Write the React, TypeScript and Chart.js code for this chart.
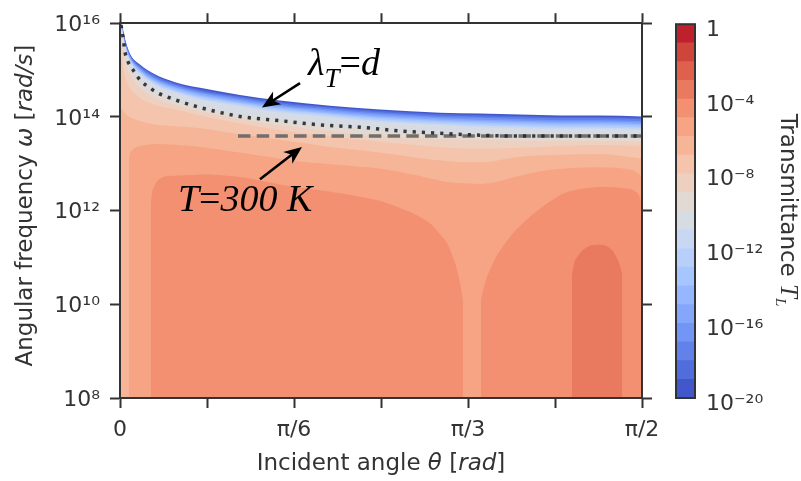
import { useEffect, useRef } from 'react';
import { Chart, registerables } from 'chart.js';

Chart.register(...registerables);
Chart.defaults.font.family = 'DejaVu Sans';

// ---- data -------------------------------------------------------------

// incident angle samples (rad) for the upper contour lines
const thetaGrid = [0, 0.006, 0.015, 0.03, 0.06, 0.105, 0.166, 0.241, 0.361, 0.481, 0.632, 0.782, 0.963, 1.083, 1.204, 1.324, 1.444, 1.5708];

// log10(omega) of the contour where the transmittance equals 10^-n (n in the name)
const contour20 = [16.0, 15.96, 15.67, 15.35, 15.12, 14.91, 14.74, 14.62, 14.47, 14.35, 14.24, 14.16, 14.09, 14.07, 14.05, 14.03, 14.03, 14.01];
const contour19 = [15.99, 15.94, 15.65, 15.33, 15.1, 14.89, 14.72, 14.59, 14.44, 14.32, 14.21, 14.13, 14.06, 14.04, 14.02, 14.0, 14.0, 13.98];
const contour18 = [15.98, 15.93, 15.63, 15.31, 15.07, 14.86, 14.69, 14.56, 14.42, 14.29, 14.19, 14.1, 14.03, 14.01, 13.99, 13.97, 13.97, 13.95];
const contour17 = [15.97, 15.92, 15.61, 15.3, 15.05, 14.83, 14.67, 14.53, 14.39, 14.26, 14.16, 14.07, 14.0, 13.98, 13.95, 13.93, 13.93, 13.91];
const contour16 = [15.96, 15.9, 15.59, 15.28, 15.03, 14.81, 14.64, 14.51, 14.36, 14.23, 14.13, 14.04, 13.97, 13.94, 13.92, 13.9, 13.9, 13.88];
const contour15 = [15.95, 15.89, 15.57, 15.26, 15.0, 14.78, 14.62, 14.48, 14.33, 14.21, 14.1, 14.01, 13.94, 13.91, 13.89, 13.87, 13.87, 13.85];
const contour14 = [15.94, 15.87, 15.55, 15.24, 14.98, 14.76, 14.59, 14.45, 14.3, 14.18, 14.07, 13.98, 13.91, 13.88, 13.86, 13.84, 13.84, 13.82];
const contour13 = [15.93, 15.86, 15.53, 15.22, 14.96, 14.73, 14.56, 14.42, 14.28, 14.15, 14.05, 13.95, 13.88, 13.85, 13.82, 13.8, 13.8, 13.78];
const contour12 = [15.93, 15.85, 15.52, 15.2, 14.93, 14.71, 14.54, 14.39, 14.25, 14.12, 14.02, 13.92, 13.85, 13.81, 13.79, 13.77, 13.77, 13.75];
const contour11 = [15.92, 15.83, 15.5, 15.18, 14.91, 14.68, 14.51, 14.37, 14.22, 14.09, 13.99, 13.89, 13.82, 13.78, 13.76, 13.74, 13.74, 13.72];
const contour10 = [15.83, 15.71, 15.37, 15.08, 14.76, 14.53, 14.37, 14.2, 14.03, 13.93, 13.8, 13.72, 13.65, 13.63, 13.61, 13.59, 13.59, 13.57];
const contour9 = [15.71, 15.54, 15.18, 14.91, 14.62, 14.41, 14.26, 14.12, 13.95, 13.82, 13.7, 13.59, 13.53, 13.51, 13.49, 13.49, 13.49, 13.47];
const contour8 = [15.39, 15.18, 14.87, 14.62, 14.41, 14.26, 14.16, 14.03, 13.86, 13.72, 13.59, 13.47, 13.36, 13.32, 13.34, 13.38, 13.4, 13.38];
const contour7 = [14.24, 14.16, 14.07, 13.99, 13.91, 13.84, 13.8, 13.76, 13.63, 13.51, 13.36, 13.24, 13.07, 13.03, 13.15, 13.19, 13.21, 13.11];

// closed contours as [theta (rad), log10(omega)] pairs
const contour6: [number, number][] = [
  [0.027, 8], [0.027, 13.09], [0.033, 13.26], [0.045, 13.34], [0.075, 13.4], [0.12, 13.42], [0.241, 13.36],
  [0.391, 13.21], [0.542, 13.05], [0.782, 12.9], [0.882, 12.77], [0.984, 12.61], [1.083, 12.57], [1.134, 12.61],
  [1.183, 12.71], [1.285, 12.86], [1.384, 12.92], [1.484, 12.92], [1.544, 12.86], [1.5708, 12.73],
];
const contour5Left: [number, number][] = [
  [0.093, 8], [0.093, 12.15], [0.099, 12.46], [0.114, 12.65], [0.135, 12.73], [0.181, 12.75], [0.271, 12.77],
  [0.37, 12.71], [0.472, 12.57], [0.572, 12.46], [0.671, 12.36], [0.782, 12.21], [0.882, 11.94], [0.933, 11.73],
  [0.984, 11.31], [1.008, 10.89], [1.023, 10.47], [1.032, 10.05], [1.032, 8],
];
const contour5Right: [number, number][] = [
  [1.086, 8], [1.086, 10.05], [1.095, 10.37], [1.104, 10.58], [1.134, 11.04], [1.183, 11.52], [1.234, 11.87],
  [1.285, 12.15], [1.333, 12.36], [1.384, 12.46], [1.435, 12.5], [1.484, 12.5], [1.535, 12.46], [1.559, 12.36],
  [1.5708, 12.15],
];
const contour4: [number, number][] = [
  [1.36, 8], [1.36, 10.58], [1.369, 10.93], [1.39, 11.14], [1.414, 11.25], [1.438, 11.27], [1.462, 11.25],
  [1.483, 11.14], [1.498, 10.95], [1.511, 10.64], [1.511, 8],
];

// lambda_T = d curve
const lambdaTheta = [0.003, 0.009, 0.015, 0.024, 0.036, 0.06, 0.09, 0.114, 0.141, 0.172, 0.241, 0.361, 0.481, 0.602, 0.722, 0.843, 0.963, 1.083, 1.204, 1.324, 1.444, 1.5708];
const lambdaLogW = [15.96, 15.71, 15.39, 15.18, 15.04, 14.79, 14.62, 14.51, 14.43, 14.35, 14.2, 14.01, 13.92, 13.83, 13.78, 13.7, 13.65, 13.61, 13.59, 13.59, 13.59, 13.59];

// thermal frequency k_B T / hbar at T = 300 K
const thermalTheta = [0.355, 1.5708];
const thermalOmega = 3.93e13;

const xTickLabels = ['0', '', 'π/6', '', 'π/3', '', 'π/2'];
const yTickExps = [8, 10, 12, 14, 16];
const cbarTickExps = [-20, -16, -12, -8, -4, 0];

// ---- style ------------------------------------------------------------

const coolwarm20 = [
  'rgb(66,87,202)', 'rgb(81,109,219)', 'rgb(98,130,234)', 'rgb(115,149,245)', 'rgb(132,167,252)',
  'rgb(150,183,255)', 'rgb(167,197,254)', 'rgb(184,208,249)', 'rgb(200,215,242)', 'rgb(215,219,228)',
  'rgb(227,217,211)', 'rgb(238,208,192)', 'rgb(245,196,172)', 'rgb(247,181,152)', 'rgb(246,164,132)',
  'rgb(242,144,113)', 'rgb(233,121,95)', 'rgb(222,96,77)', 'rgb(207,69,60)', 'rgb(190,33,45)',
];
const AXIS = '#333333';
const TEXT = '#333333';
const tickFont = { family: 'DejaVu Sans', size: 22 };

const SUP: Record<string, string> = {
  '-': '⁻', '0': '⁰', '1': '¹', '2': '²', '3': '³', '4': '⁴', '5': '⁵', '6': '⁶', '7': '⁷', '8': '⁸', '9': '⁹',
};
const pow10Label = (e: number) => (e === 0 ? '1' : '10' + String(e).split('').map((c) => SUP[c]).join(''));

type Run = { text: string; font: string; dy?: number };

function drawRuns(ctx: CanvasRenderingContext2D, runs: Run[], x: number, y: number, angle: number, align: 'left' | 'center', color: string) {
  ctx.save();
  ctx.translate(x, y);
  ctx.rotate(angle);
  ctx.fillStyle = color;
  ctx.textBaseline = 'alphabetic';
  ctx.textAlign = 'left';
  const widths = runs.map((r) => {
    ctx.font = r.font;
    return ctx.measureText(r.text).width;
  });
  const total = widths.reduce((a, b) => a + b, 0);
  let cx = align === 'center' ? -total / 2 : 0;
  runs.forEach((r, i) => {
    ctx.font = r.font;
    ctx.fillText(r.text, cx, r.dy ?? 0);
    cx += widths[i];
  });
  ctx.restore();
}

function drawArrow(ctx: CanvasRenderingContext2D, x0: number, y0: number, x1: number, y1: number) {
  const a = Math.atan2(y1 - y0, x1 - x0);
  const c = Math.cos(a);
  const s = Math.sin(a);
  const L = 18;
  const W = 7.5;
  ctx.save();
  ctx.strokeStyle = '#000';
  ctx.fillStyle = '#000';
  ctx.lineWidth = 2.6;
  ctx.beginPath();
  ctx.moveTo(x0, y0);
  ctx.lineTo(x1 - c * L * 0.7, y1 - s * L * 0.7);
  ctx.stroke();
  ctx.beginPath();
  ctx.moveTo(x1, y1);
  ctx.lineTo(x1 - c * L - s * W, y1 - s * L + c * W);
  ctx.lineTo(x1 - c * L * 0.72, y1 - s * L * 0.72);
  ctx.lineTo(x1 - c * L + s * W, y1 - s * L - c * W);
  ctx.closePath();
  ctx.fill();
  ctx.restore();
}

const piTicks = (s: any) => {
  s.ticks = [0, 1, 2, 3, 4, 5, 6].map((k) => ({ value: (k * Math.PI) / 12 }));
};
const decadeTicks = (s: any) => {
  s.ticks = yTickExps.map((e) => ({ value: Math.pow(10, e) }));
};
const tickGrid = { drawOnChartArea: false, drawTicks: true, tickLength: 10, tickWidth: 2, tickColor: AXIS };
const frameBorder = { display: true, color: AXIS, width: 2, z: 1 };

function buildMainChart(canvas: HTMLCanvasElement) {
  const bands = [contour20, contour19, contour18, contour17, contour16, contour15, contour14, contour13, contour12, contour11, contour10, contour9, contour8, contour7];
  const datasets: any[] = bands.map((curve, k) => ({
    data: thetaGrid.map((t, i) => ({ x: t, y: Math.pow(10, curve[i]) })),
    fill: 'start',
    backgroundColor: coolwarm20[k],
    borderColor: 'rgba(0,0,0,0)',
    borderWidth: 0,
    pointRadius: 0,
    cubicInterpolationMode: 'monotone',
    order: 100 - k,
  }));
  const closed: [[number, number][], number][] = [
    [contour6, 14],
    [contour5Left, 15],
    [contour5Right, 15],
    [contour4, 16],
  ];
  closed.forEach(([pts, level], j) => {
    datasets.push({
      data: pts.map(([t, e]) => ({ x: t, y: Math.pow(10, e) })),
      fill: 'start',
      backgroundColor: coolwarm20[level],
      borderColor: 'rgba(0,0,0,0)',
      borderWidth: 0,
      pointRadius: 0,
      tension: 0.2,
      order: 80 - j,
    });
  });
  datasets.push({
    data: thermalTheta.map((t) => ({ x: t, y: thermalOmega })),
    fill: false,
    borderColor: 'rgba(105,105,105,0.95)',
    borderWidth: 3.5,
    borderDash: [12.5, 6.2],
    pointRadius: 0,
    order: 2,
  });
  datasets.push({
    data: lambdaTheta.map((t, i) => ({ x: t, y: Math.pow(10, lambdaLogW[i]) })),
    fill: false,
    borderColor: 'rgba(38,38,38,0.9)',
    borderWidth: 3.5,
    borderDash: [3.2, 6],
    pointRadius: 0,
    cubicInterpolationMode: 'monotone',
    order: 1,
  });
  datasets.forEach((d) => {
    d.xAxisID = 'x';
    d.yAxisID = 'y';
  });

  const decor = {
    id: 'decor',
    afterDraw(chart: any) {
      const ctx = chart.ctx as CanvasRenderingContext2D;
      const area = chart.chartArea;
      const xs = chart.scales.x;
      const ys = chart.scales.y;
      const px = (t: number) => xs.getPixelForValue(t);
      const py = (e: number) => ys.getPixelForValue(Math.pow(10, e));
      const sans = '23px "DejaVu Sans"';
      const sansIt = 'italic 23px "DejaVu Sans"';

      drawRuns(ctx, [
        { text: 'Incident angle ', font: sans },
        { text: 'θ', font: sansIt },
        { text: ' [', font: sans },
        { text: 'rad', font: sansIt },
        { text: ']', font: sans },
      ], (area.left + area.right) / 2, area.bottom + 71.5, 0, 'center', TEXT);

      drawRuns(ctx, [
        { text: 'Angular frequency ', font: sans },
        { text: 'ω', font: sansIt },
        { text: ' [', font: sans },
        { text: 'rad/s', font: sansIt },
        { text: ']', font: sans },
      ], area.left - 88, (area.top + area.bottom) / 2 - 5, -Math.PI / 2, 'center', TEXT);

      const serifIt = 'italic 38px "Liberation Serif"';
      drawRuns(ctx, [
        { text: 'λ', font: serifIt },
        { text: 'T', font: 'italic 27px "Liberation Serif"', dy: 12 },
        { text: '=', font: '38px "Liberation Serif"' },
        { text: 'd', font: serifIt },
      ], px(0.566), py(14.89), 0, 'left', '#000');

      drawRuns(ctx, [
        { text: 'T', font: serifIt },
        { text: '=', font: '38px "Liberation Serif"' },
        { text: '300 K', font: serifIt },
      ], px(0.1745), py(12.0), 0, 'left', '#000');

      drawArrow(ctx, px(0.5417), py(14.72), px(0.4273), py(14.2));
      drawArrow(ctx, px(0.4213), py(12.67), px(0.5477), py(13.36));
    },
  };

  return new Chart(canvas, {
    type: 'line',
    data: { datasets },
    options: {
      animation: false,
      responsive: false,
      maintainAspectRatio: false,
      events: [],
      layout: { padding: 0 },
      plugins: { legend: { display: false }, tooltip: { enabled: false } },
      scales: {
        x: {
          type: 'linear', position: 'bottom', min: 0, max: Math.PI / 2,
          afterFit: (s: any) => { s.height = 83; },
          afterBuildTicks: piTicks,
          grid: tickGrid, border: frameBorder,
          ticks: { autoSkip: false, maxRotation: 0, padding: 9, font: tickFont, color: TEXT, callback: (_v: any, i: number) => xTickLabels[i] },
        },
        y: {
          type: 'logarithmic', position: 'left', min: 1e8, max: 1e16,
          afterFit: (s: any) => { s.width = 120; },
          afterBuildTicks: decadeTicks,
          grid: tickGrid, border: frameBorder,
          ticks: { autoSkip: false, padding: 10, labelOffset: 2, font: tickFont, color: TEXT, callback: (v: any) => pow10Label(Math.round(Math.log10(Number(v)))) },
        },
        x2: {
          type: 'linear', position: 'top', min: 0, max: Math.PI / 2,
          afterFit: (s: any) => { s.height = 16; },
          afterBuildTicks: piTicks,
          grid: tickGrid, border: frameBorder,
          ticks: { display: false },
        },
        y2: {
          type: 'logarithmic', position: 'right', min: 1e8, max: 1e16,
          afterFit: (s: any) => { s.width = 159; },
          afterBuildTicks: decadeTicks,
          grid: tickGrid, border: frameBorder,
          ticks: { display: false },
        },
      },
    } as any,
    plugins: [decor],
  });
}

function buildColorbar(canvas: HTMLCanvasElement) {
  const outline = {
    id: 'outline',
    afterDatasetsDraw(chart: any) {
      const { ctx, chartArea: a } = chart;
      ctx.save();
      ctx.strokeStyle = AXIS;
      ctx.lineWidth = 2;
      ctx.strokeRect(a.left, a.top, a.right - a.left, a.bottom - a.top);
      ctx.restore();
    },
    afterDraw(chart: any) {
      const a = chart.chartArea;
      drawRuns(chart.ctx, [
        { text: 'Transmittance ', font: '23px "DejaVu Sans"' },
        { text: 'T', font: 'italic 25px "Liberation Serif"' },
        { text: 'L', font: 'italic 15px "Liberation Serif"', dy: 5 },
      ], a.right + 86, 210, Math.PI / 2, 'center', TEXT);
    },
  };

  return new Chart(canvas, {
    type: 'bar',
    data: {
      labels: [''],
      datasets: coolwarm20.map((c, k) => ({
        data: [[k - 20, k - 19]],
        backgroundColor: c,
        borderWidth: 0,
        grouped: false,
        barPercentage: 1,
        categoryPercentage: 1,
      })),
    },
    options: {
      animation: false,
      responsive: false,
      maintainAspectRatio: false,
      events: [],
      layout: { padding: { left: 16, top: 16, bottom: 83, right: 0 } },
      plugins: { legend: { display: false }, tooltip: { enabled: false } },
      scales: {
        x: { display: false },
        y: {
          position: 'right', min: -20, max: 0,
          afterFit: (s: any) => { s.width = 106; },
          afterBuildTicks: (s: any) => { s.ticks = cbarTickExps.map((v) => ({ value: v })); },
          grid: { display: false, drawTicks: false },
          border: { display: false },
          ticks: { padding: 11, labelOffset: 6, font: tickFont, color: TEXT, callback: (v: any) => pow10Label(Number(v)) },
        },
      },
    } as any,
    plugins: [outline],
  });
}

export default function App() {
  const mainRef = useRef<HTMLCanvasElement>(null);
  const barRef = useRef<HTMLCanvasElement>(null);

  useEffect(() => {
    const main = buildMainChart(mainRef.current!);
    const bar = buildColorbar(barRef.current!);
    return () => {
      main.destroy();
      bar.destroy();
    };
  }, []);

  return (
    <div style={{ position: 'fixed', left: 0, top: 0, width: 801, height: 481, background: '#fff' }}>
      <canvas ref={mainRef} width={801} height={481} style={{ position: 'absolute', left: 0, top: 0 }} />
      <canvas ref={barRef} width={141} height={481} style={{ position: 'absolute', left: 660, top: 0 }} />
    </div>
  );
}
